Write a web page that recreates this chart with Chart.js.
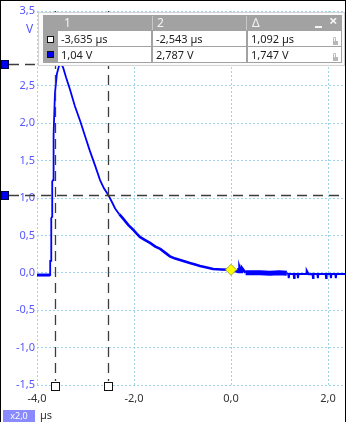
<!DOCTYPE html>
<html>
<head>
<meta charset="utf-8">
<script src="https://cdn.jsdelivr.net/npm/chart.js@4"></script>
<style>
  html,body{margin:0;padding:0;background:#fff;}
  #wrap{position:relative;width:346px;height:422px;overflow:hidden;font-family:"Noto Sans","Liberation Sans",sans-serif;}
  canvas{position:absolute;left:0;top:0;}
  .abs{position:absolute;box-sizing:border-box;}
  .cell{position:absolute;background:#fff;font-size:11px;color:#1e1e1e;line-height:15px;padding-left:3px;white-space:nowrap;box-sizing:border-box;}
  .hdr{position:absolute;color:#f4f4f4;font-size:12px;line-height:15px;}
  .lock{position:absolute;width:5px;height:4px;background:#b8b8b8;}
  .lock:before{content:"";position:absolute;left:0px;top:-4px;width:3px;height:4px;border:1px solid #b8b8b8;border-bottom:none;border-radius:2px 2px 0 0;box-sizing:border-box;}
</style>
</head>
<body>
<div id="wrap">
  <canvas id="c" width="346" height="422"></canvas>
  <!-- unit label -->
  <div class="abs" style="left:26px;top:21px;font-size:12px;color:rgb(85,85,255);line-height:16px;">V</div>
  <!-- cursor table -->
  <div class="abs" style="left:38px;top:12px;width:307px;height:54px;background:#fbfbfb;border:1px solid #d4d4d4;"></div>
  <div class="abs" style="left:43px;top:15px;width:299px;height:48px;background:#a2a2a2;"></div>
  <div class="abs" style="left:152px;top:16px;width:1px;height:14px;background:#c8c8c8;"></div>
  <div class="abs" style="left:246px;top:16px;width:1px;height:14px;background:#c8c8c8;"></div>
  <div class="hdr" style="left:64px;top:15px;">1</div>
  <div class="hdr" style="left:157px;top:15px;">2</div>
  <div class="hdr" style="left:252px;top:15px;">Δ</div>
  <div class="abs" style="left:315px;top:26px;width:7px;height:2px;background:#f4f4f4;"></div>
  <div class="hdr" style="left:329px;top:13px;font-size:15px;font-weight:bold;">×</div>
  <div class="abs" style="left:47px;top:36px;width:7px;height:7px;background:#fff;border:1px solid #111;"></div>
  <div class="abs" style="left:47px;top:51px;width:7px;height:7px;background:#0000ee;border:1px solid #111;"></div>
  <div class="cell" style="left:58px;top:31px;width:93px;height:15px;">-3,635 µs</div>
  <div class="cell" style="left:153px;top:31px;width:93px;height:15px;">-2,543 µs</div>
  <div class="cell" style="left:248px;top:31px;width:93px;height:15px;">1,092 µs</div>
  <div class="cell" style="left:58px;top:47px;width:93px;height:15px;">1,04 V</div>
  <div class="cell" style="left:153px;top:47px;width:93px;height:15px;">2,787 V</div>
  <div class="cell" style="left:248px;top:47px;width:93px;height:15px;">1,747 V</div>
  <div class="lock" style="left:333px;top:41px;"></div>
  <div class="lock" style="left:333px;top:57px;"></div>
  <!-- bottom-left badge -->
  <div class="abs" style="left:3px;top:410px;width:32px;height:12px;background:#8a8aff;color:#fff;font-size:9px;line-height:12px;text-align:center;">x2,0</div>
  <div class="abs" style="left:40px;top:407px;font-size:11px;color:#333;line-height:15px;">µs</div>
  <!-- frame -->
  <div class="abs" style="left:0;top:0;width:346px;height:1px;background:#000;"></div>
  <div class="abs" style="left:0;top:0;width:1px;height:422px;background:#000;"></div>
  <div class="abs" style="left:345px;top:0;width:1px;height:422px;background:#000;"></div>
</div>
<script>
// ---- data ----
const times = [
  -4.00,-3.73,
  -3.728,-3.71,-3.706,-3.69,-3.686,-3.67,-3.666,-3.65,-3.63,-3.59,-3.54,-3.50,-3.46,-3.40,
  -3.32,-3.22,-3.11,-3.01,-2.91,-2.80,-2.70,-2.62,-2.53,-2.45,-2.39,-2.30,-2.22,-2.12,-2.01,
  -1.94,-1.88,-1.78,-1.67,-1.56,-1.46,-1.36,-1.26,-1.15,-1.05,-0.95,-0.85,-0.74,-0.64,-0.50,
  -0.37,-0.20,-0.02,0.10,0.15,0.155,0.17,0.175,0.20,0.205,0.22,0.225,0.30,
  0.60,0.80,1.00,1.15,1.18,1.19,1.20,
  1.29,1.30,1.31,1.37,1.38,1.39,1.55,1.56,1.60,1.68,1.69,1.70,1.78,1.79,1.80,1.95,1.96,1.97,
  2.05,2.06,2.07,2.15,2.16,2.17,2.37
];
const volts = [
  -0.03,-0.03,
  0.16,0.16,0.73,0.75,1.22,1.24,1.76,1.85,2.40,2.66,2.78,2.80,2.74,2.61,
  2.45,2.23,2.03,1.83,1.63,1.43,1.24,1.13,1.04,0.94,0.86,0.78,0.72,0.64,0.57,
  0.52,0.48,0.44,0.40,0.35,0.32,0.27,0.22,0.19,0.17,0.15,0.13,0.11,0.09,0.07,
  0.05,0.045,0.04,0.02,0.01,0.065,0.01,0.065,0.01,0.065,0.01,0.065,0.00,
  0.00,-0.005,0.00,-0.005,-0.015,-0.07,-0.015,
  -0.015,-0.07,-0.015,-0.015,-0.07,-0.015,-0.015,0.03,-0.02,-0.015,-0.07,-0.015,-0.015,-0.07,-0.015,-0.015,-0.07,-0.015,
  -0.015,-0.07,-0.015,-0.015,-0.07,-0.015,-0.015
];
const triggerTime = [0.0];
const triggerVolt = [0.04];
const cursorTimes = [-3.635, -2.543];
const cursorVolts = [1.04, 2.787];
const xTickValues = [-4, -2, 0, 2];
const yTickValues = [-1.5,-1.0,-0.5,0.0,0.5,1.0,1.5,2.0,2.5,3.0,3.5];
const xRange = [-4, 2.37];
const yRange = [-1.5, 3.5];

const fmt = v => v.toFixed(1).replace('.', ',');
const gridColor = 'rgb(160,212,232)';
const FONT = '"Noto Sans","Liberation Sans",sans-serif';

// line thickness of the trace by region (the dense noisy samples look thicker)
const traceWidth = ctx => {
  const t = ctx.p0.parsed.x;
  if (t < -3.73) return 3;
  if (t < -2.3) return 1.8;
  if (t < 0.25) return 2.6;
  if (t < 1.15) return 5;
  return 2;
};

const cursorPlugin = {
  id: 'cursors',
  afterDatasetsDraw(chart) {
    const {ctx, chartArea: a, scales: {x, y}} = chart;
    ctx.save();
    ctx.strokeStyle = '#3c3c3c';
    ctx.lineWidth = 1.3;
    ctx.setLineDash([10, 6]);
    cursorVolts.forEach(v => {
      const py = Math.round(y.getPixelForValue(v)) + 0.5;
      ctx.beginPath(); ctx.moveTo(9, py); ctx.lineTo(a.right, py); ctx.stroke();
    });
    cursorTimes.forEach(t => {
      const px = Math.round(x.getPixelForValue(t)) + 0.5;
      ctx.beginPath(); ctx.moveTo(px, a.top); ctx.lineTo(px, a.bottom - 4); ctx.stroke();
    });
    ctx.setLineDash([]);
    ctx.lineWidth = 1;
    cursorTimes.forEach(t => {
      const px = Math.round(x.getPixelForValue(t));
      ctx.fillStyle = '#fff';
      ctx.fillRect(px - 4, a.bottom - 3, 9, 9);
      ctx.strokeStyle = '#111';
      ctx.strokeRect(px - 3.5, a.bottom - 2.5, 8, 8);
    });
    cursorVolts.forEach(v => {
      const py = Math.round(y.getPixelForValue(v));
      ctx.fillStyle = '#0000ee';
      ctx.fillRect(1, py - 4, 8, 9);
      ctx.strokeStyle = '#000050';
      ctx.strokeRect(1.5, py - 3.5, 7, 8);
    });
    ctx.restore();
  }
};

new Chart(document.getElementById('c'), {
  type: 'line',
  data: {
    datasets: [
      {
        data: triggerTime.map((t, i) => ({x: t, y: triggerVolt[i]})),
        showLine: false,
        pointStyle: 'rectRot',
        pointRadius: 5.5,
        pointBackgroundColor: '#ffff00',
        pointBorderColor: '#a8a830',
        pointBorderWidth: 1,
        clip: false,
        order: 0
      },
      {
        data: times.map((t, i) => ({x: t, y: volts[i]})),
        borderColor: '#0000ff',
        borderWidth: 1.8,
        segment: {borderWidth: traceWidth},
        pointRadius: 0,
        tension: 0,
        fill: false,
        order: 1
      }
    ]
  },
  options: {
    responsive: false,
    animation: false,
    devicePixelRatio: 1,
    layout: {autoPadding: false, padding: {top: 11, left: 0, right: 0, bottom: 0}},
    plugins: {legend: {display: false}, tooltip: {enabled: false}},
    scales: {
      x: {
        type: 'linear',
        bounds: 'data',
        min: xRange[0], max: xRange[1],
        afterBuildTicks: s => { s.ticks = xTickValues.map(v => ({value: v})); s.min = xRange[0]; s.max = xRange[1]; },
        afterFit: s => { s.height = 37; s.paddingLeft = 0; s.paddingRight = 0; },
        border: {display: false, dash: [2, 2]},
        grid: {color: gridColor, lineWidth: 1, drawTicks: false},
        ticks: {color: '#333', font: {family: FONT, size: 11}, padding: 7, callback: v => fmt(v), maxRotation: 0, autoSkip: false}
      },
      y: {
        type: 'linear',
        bounds: 'data',
        min: yRange[0], max: yRange[1],
        afterBuildTicks: s => { s.ticks = yTickValues.map(v => ({value: v})); s.min = yRange[0]; s.max = yRange[1]; },
        afterFit: s => { s.width = 37; s.paddingTop = 0; s.paddingBottom = 0; },
        border: {display: false, dash: [2, 2]},
        grid: {color: gridColor, lineWidth: 1, drawTicks: false},
        ticks: {color: 'rgb(85,85,255)', font: {family: FONT, size: 11}, padding: 2, autoSkip: false,
                callback: v => (Math.abs(v - 3) < 1e-9 ? '' : fmt(v))}
      }
    }
  },
  plugins: [cursorPlugin]
});
</script>
</body>
</html>
